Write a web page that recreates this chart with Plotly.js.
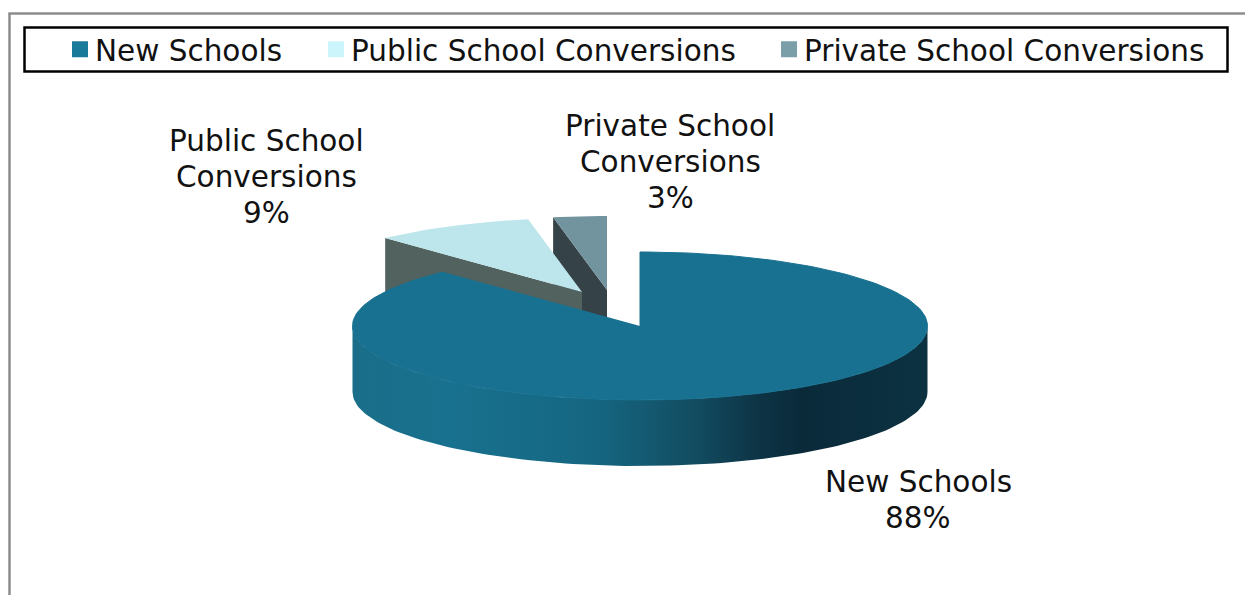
<!DOCTYPE html>
<html><head><meta charset="utf-8">
<script src="https://cdn.plot.ly/plotly-3.0.1.min.js"></script>
<style>html,body{margin:0;padding:0;background:#fff}</style></head>
<body><div id="chart" style="width:1245px;height:595px"></div>
<script>
const categories = ["New Schools", "Public School Conversions", "Private School Conversions"];
const shares = [88, 9, 3];
const topColors = ["#187191", "#bde6ec", "#72949f"];
const legendColors = ["#1a7a9a", "#ccf5fb", "#7a9fa9"];
const faceColors = ["#187191", "#52625f", "#354247"];
const labelLines = [["New Schools"], ["Public School", "Conversions"], ["Private School", "Conversions"]];

const rx = 287.5, ry = 74, depth = 66;
const centers = [[640, 326], [582, 292], [607, 290]];
const labelPos = [[918, 482], [266, 141], [670, 126]];
const legendTextX = [96, 352, 805];
const lineStep = 36, fontSize = 29.5;

function pt(c, deg, dy) {
  const t = deg * Math.PI / 180;
  return [c[0] + rx * Math.sin(t), c[1] - ry * Math.cos(t) + (dy || 0)];
}
function arc(c, a, b, dy) {
  const out = [], n = Math.max(2, Math.ceil(Math.abs(b - a) / 1.5));
  for (let i = 0; i <= n; i++) out.push(pt(c, a + (b - a) * i / n, dy));
  return out;
}
function poly(points, color, extra) {
  return Object.assign({
    type: "scatter", mode: "lines", fill: "toself",
    x: points.map(p => p[0]), y: points.map(p => p[1]),
    line: {width: 0, color: color}, fillcolor: color,
    hoverinfo: "skip", showlegend: false
  }, extra || {});
}

// slice angles from the values, clockwise from 12 o'clock
const total = shares.reduce((a, b) => a + b, 0);
const bounds = [0];
shares.forEach(v => bounds.push(bounds[bounds.length - 1] + v / total * 360));

const traces = [];
// Private slice: cut face, then top
{
  const c = centers[2], a = bounds[2], b = bounds[3];
  traces.push(poly([pt(c, a), c, [c[0], c[1] + depth], pt(c, a, depth)], faceColors[2]));
  traces.push(poly([c, ...arc(c, a, b)], topColors[2]));
}
// Public slice: cut face, then top
{
  const c = centers[1], a = bounds[1], b = bounds[2];
  traces.push(poly([pt(c, a), c, [c[0], c[1] + depth], pt(c, a, depth)], faceColors[1]));
  traces.push(poly([c, ...arc(c, a, b)], topColors[1]));
}
// New Schools slice: curved wall with gradient, then top
{
  const c = centers[0], a = bounds[0], b = bounds[1];
  const wall = [...arc(c, 90, 270), ...arc(c, 270, 90, depth)];
  traces.push(poly(wall, faceColors[0], {
    fillgradient: {type: "horizontal", colorscale: [
      [0, "#1a6e89"], [0.17, "#18718f"], [0.34, "#166a85"], [0.43, "#156580"],
      [0.52, "#14586f"], [0.6, "#124b60"], [0.7, "#0d3546"], [0.78, "#0a2a3a"], [1, "#0c3241"]
    ]}
  }));
  traces.push(poly([c, ...arc(c, a, b)], topColors[0], {line: {width: 1, color: topColors[0]}}));
}
// legend entries, one positioned legend per category
const legendKeys = ["legend", "legend2", "legend3"];
categories.forEach((name, i) => traces.push({
  type: "scatter", mode: "markers", x: [null], y: [null], name: name, legend: legendKeys[i],
  marker: {symbol: "square", size: 16, color: legendColors[i]}, hoverinfo: "skip"
}));

const annotations = [];
categories.forEach((name, i) => {
  labelLines[i].concat(shares[i] + "%").forEach((line, k) => annotations.push({
    xref: "x", yref: "y", x: labelPos[i][0], y: labelPos[i][1] + k * lineStep,
    text: line, showarrow: false, xanchor: "center", yanchor: "middle", align: "center",
    font: {family: "DejaVu Sans", size: fontSize, color: "#111"}
  }));
});

const layout = {
  width: 1245, height: 595,
  margin: {l: 0, r: 0, t: 0, b: 0},
  paper_bgcolor: "#fff", plot_bgcolor: "#fff",
  xaxis: {range: [0, 1245], visible: false, fixedrange: true},
  yaxis: {range: [595, 0], visible: false, fixedrange: true},
  showlegend: true,
  shapes: [
    {type: "line", xref: "paper", yref: "paper", x0: 9.5 / 1245, x1: 9.5 / 1245, y0: 0, y1: 1 - 13 / 595, line: {color: "#8c8c8c", width: 2.5}},
    {type: "line", xref: "paper", yref: "paper", x0: 8.5 / 1245, x1: 1, y0: 1 - 13.5 / 595, y1: 1 - 13.5 / 595, line: {color: "#8c8c8c", width: 2.5}},
    {type: "rect", xref: "paper", yref: "paper", x0: 24.5 / 1245, x1: 1227.5 / 1245, y0: 1 - 71.5 / 595, y1: 1 - 27.5 / 595, line: {color: "#000", width: 2.5}}
  ],
  annotations: annotations
};
legendKeys.forEach((key, i) => {
  layout[key] = {
    orientation: "h", x: (legendTextX[i] - 41) / 1245, xanchor: "left", y: 1 - 49.5 / 595, yanchor: "middle",
    bgcolor: "rgba(0,0,0,0)", itemclick: false, itemdoubleclick: false,
    font: {family: "DejaVu Sans", size: fontSize, color: "#111"}
  };
});
Plotly.newPlot("chart", traces, layout, {displayModeBar: false}).then(() => {
  // swatches sit closer to their text than the library's default gap
  document.querySelectorAll("#chart .legendsymbols").forEach(g => g.setAttribute("transform", "translate(5,0)"));
});
</script></body></html>
